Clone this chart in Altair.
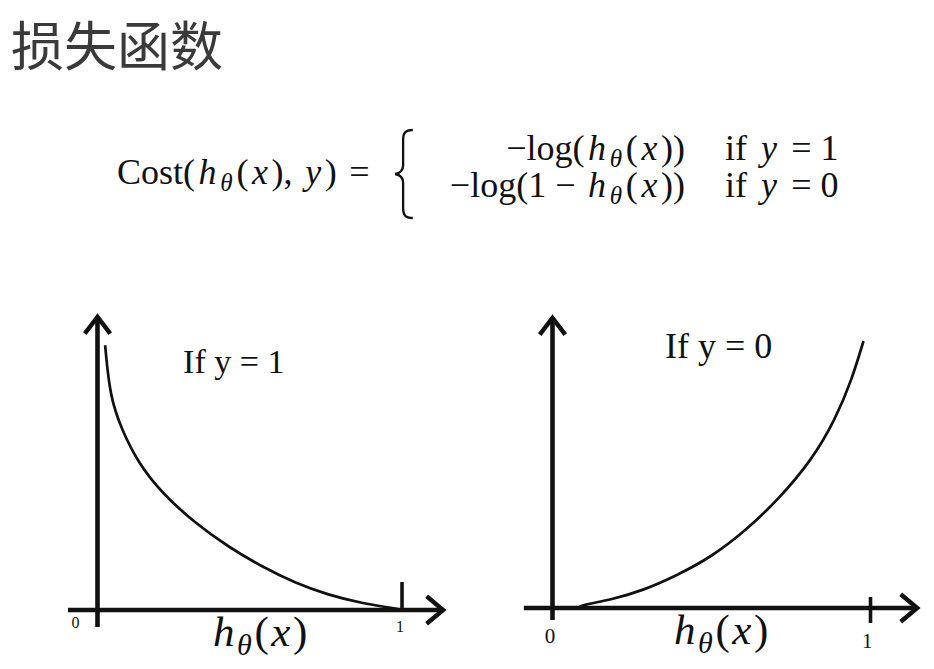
import altair as alt
import pandas as pd

# ---------------- data ----------------
title_text = "损失函数"

# panel "If y = 1": cost falls from the top towards 0 at h = 1
left_h = [0.025, 0.041, 0.080, 0.134, 0.211, 0.320, 0.430, 0.539, 0.649, 0.758, 0.868, 0.977, 1.0]
left_cost = [3.53, 2.84, 2.40, 1.96, 1.56, 1.16, 0.84, 0.58, 0.36, 0.20, 0.09, 0.02, 0.0]

# panel "If y = 0": cost rises from 0 towards the top at h -> 1
right_h = [0.080, 0.092, 0.185, 0.289, 0.394, 0.499, 0.604, 0.709, 0.815, 0.889, 0.941, 0.978]
right_cost = [0.0, 0.04, 0.11, 0.24, 0.44, 0.68, 1.02, 1.44, 1.97, 2.51, 3.04, 3.56]

tick_labels = ["0", "1"]
tick_values = [0, 1]
panel_titles = ["If y = 1", "If y = 0"]

# ---------------- text metrics helper (Times-like widths, per em) ----------------
REG = {" ": .25, "(": .333, ")": .333, ",": .25, "=": .564, "−": .564, "0": .5, "1": .5,
       "C": .667, "o": .5, "s": .389, "t": .278, "l": .278, "g": .5, "i": .278, "f": .333}
ITA = {"h": .5, "x": .444, "y": .444, "θ": .5}


def piece_w(text, style, size):
    if style == "sub":
        return sum(ITA.get(c, .5) for c in text) * size * 0.7
    table = ITA if style == "it" else REG
    return sum(table.get(c, .5) for c in text) * size


def total_w(pieces, size, gap):
    return sum(piece_w(t, s, size) for t, s in pieces) + gap * (len(pieces) - 1)


def layout(pieces, x0, y0, size, gap):
    rows = []
    x = x0
    for text, style in pieces:
        fs = size * 0.7 if style == "sub" else size
        dy = size * 0.2 if style == "sub" else 0
        lead = (len(text) - len(text.lstrip(" "))) * 0.25 * fs
        shown = text.strip(" ")
        if shown:
            rows.append(dict(px=x + lead, py=y0 + dy, fs=fs, t=shown,
                             it=style in ("it", "sub")))
        x += piece_w(text, style, size) + gap
    return rows


h_theta_x = [("h", "it"), ("θ", "sub"), ("(", "r"), ("x", "it"), (")", "r")]
lhs = [("Cost(", "r"), ("h", "it"), ("θ", "sub"), ("(", "r"), ("x", "it"),
       ("), ", "r"), ("y", "it"), (")", "r"), (" =", "r")]
case1 = [("−log(", "r"), ("h", "it"), ("θ", "sub"), ("(", "r"), ("x", "it"), ("))", "r")]
case2 = [("−log(1 − ", "r"), ("h", "it"), ("θ", "sub"), ("(", "r"), ("x", "it"), ("))", "r")]
cond1 = [("if ", "r"), ("y", "it"), (" = 1", "r")]
cond2 = [("if ", "r"), ("y", "it"), (" = 0", "r")]

FS = 36
GAP = 3.6
rows = []
rows += layout(lhs, 109, 176, FS, GAP)
rows += layout(case1, 677 - total_w(case1, FS, GAP), 152, FS, GAP)
rows += layout(case2, 677 - total_w(case2, FS, GAP), 189, FS, GAP)
rows += layout(cond1, 717, 152, FS, GAP + 1.5)
rows += layout(cond2, 717, 189, FS, GAP + 1.5)
rows += layout(h_theta_x, 205, 638, 43, 2.5)
rows += layout(h_theta_x, 666, 636, 43, 2.5)
tdf = pd.DataFrame(rows)

INK = "#111111"


def text_layer(df, italic):
    return alt.Chart(df[df.it == italic]).mark_text(
        font="Liberation Serif", align="left", baseline="alphabetic", color=INK,
        fontStyle="italic" if italic else "normal",
    ).encode(
        x=alt.X("px:Q", scale=None, axis=None),
        y=alt.Y("py:Q", scale=None, axis=None),
        size=alt.Size("fs:Q", scale=None, legend=None),
        text="t:N",
    )


# ---------------- one panel ----------------
UP = "M-1,1.3L0,0L1,1.3"
RIGHT = "M-1.2,-1L0,0L-1.2,1"


def panel(h, cost, xs, ys, xaxis_ext, yaxis_ext, tick_ext, tick_lab_pos, tick_fs,
          title, title_pos, title_fs):
    def X(f):
        return alt.X(f, type="quantitative", scale=xs, axis=None)

    def Y(f):
        return alt.Y(f, type="quantitative", scale=ys, axis=None)

    curve = alt.Chart(pd.DataFrame({"h": h, "cost": cost})).mark_line(
        color=INK, strokeWidth=2.7, interpolate="basis"
    ).encode(x=X("h"), y=Y("cost"))

    xaxis = alt.Chart(pd.DataFrame({"a": [xaxis_ext[0]], "b": [xaxis_ext[1]], "y": [0]})).mark_rule(
        color=INK, strokeWidth=4.6
    ).encode(x=X("a"), x2="b", y=Y("y"))
    yaxis = alt.Chart(pd.DataFrame({"x": [0], "a": [yaxis_ext[0]], "b": [yaxis_ext[1]]})).mark_rule(
        color=INK, strokeWidth=4.6
    ).encode(x=X("x"), y=Y("a"), y2="b")
    up = alt.Chart(pd.DataFrame({"x": [0], "y": [yaxis_ext[1]]})).mark_point(
        shape=UP, size=650, filled=False, stroke=INK, strokeWidth=4.4, opacity=1
    ).encode(x=X("x"), y=Y("y"))
    right = alt.Chart(pd.DataFrame({"x": [xaxis_ext[1]], "y": [0]})).mark_point(
        shape=RIGHT, size=760, filled=False, stroke=INK, strokeWidth=4.4, opacity=1
    ).encode(x=X("x"), y=Y("y"))
    tick = alt.Chart(pd.DataFrame({"x": [1], "a": [tick_ext[0]], "b": [tick_ext[1]]})).mark_rule(
        color=INK, strokeWidth=3.6
    ).encode(x=X("x"), y=Y("a"), y2="b")
    tl = alt.Chart(pd.DataFrame({"x": [tick_lab_pos[0][0], tick_lab_pos[1][0]],
                                 "y": [tick_lab_pos[0][1], tick_lab_pos[1][1]],
                                 "t": tick_labels})).mark_text(
        font="Liberation Serif", fontSize=tick_fs, color=INK, align="center", baseline="alphabetic"
    ).encode(x=X("x"), y=Y("y"), text="t:N")
    ttl = alt.Chart(pd.DataFrame({"x": [title_pos[0]], "y": [title_pos[1]], "t": [title]})).mark_text(
        font="Liberation Serif", fontSize=title_fs, color=INK, align="left", baseline="alphabetic"
    ).encode(x=X("x"), y=Y("y"), text="t:N")
    return [xaxis, yaxis, up, right, tick, tl, ttl, curve]


LX = alt.Scale(domain=[-0.1, 1.15], range=[59.05, 439.7], nice=False, zero=False)
LY = alt.Scale(domain=[-0.8, 3.95], range=[662, 305.75], nice=False, zero=False)
RX = alt.Scale(domain=[-0.1, 1.15], range=[512.7, 910.2], nice=False, zero=False)
RY = alt.Scale(domain=[-0.8, 3.95], range=[660, 303.75], nice=False, zero=False)

left_layers = panel(left_h, left_cost, LX, LY, (-0.097, 1.135), (-0.227, 3.907), (0, 0.373),
                    [(-0.072, -0.24), (0.993, -0.29)], 16, panel_titles[0], (0.281, 3.16), 34)
right_layers = panel(right_h, right_cost, RX, RY, (-0.09, 1.147), (-0.16, 3.867), (-0.2, 0.147),
                     [(-0.008, -0.467), (0.99, -0.533)], 21, panel_titles[1], (0.354, 3.33), 36)

title = alt.Chart(pd.DataFrame({"t": [title_text]})).mark_text(
    font="Noto Sans CJK SC", fontSize=53, color="#3a3a3a", align="left", baseline="alphabetic"
).encode(x=alt.value(3), y=alt.value(58), text="t:N")

BRACE = ("M0.2,-1C0.02,-1,-0.02,-0.92,-0.02,-0.78L-0.02,-0.2C-0.02,-0.08,-0.1,-0.02,-0.2,0"
         "C-0.1,0.02,-0.02,0.08,-0.02,0.2L-0.02,0.78C-0.02,0.92,0.02,1,0.2,1")
brace = alt.Chart(pd.DataFrame({"t": ["{"]})).mark_point(
    shape=BRACE, size=7744, filled=False, stroke=INK, strokeWidth=2.3, opacity=1
).encode(x=alt.value(396), y=alt.value(166))

chart = alt.layer(
    title, brace, text_layer(tdf, False), text_layer(tdf, True), *left_layers, *right_layers
).resolve_scale(x="independent", y="independent").properties(
    width=915, height=652, padding=0, autosize="none", background="white"
).configure_view(stroke=None)

chart.save("out.html", embed_options={"renderer": "svg", "actions": False})
